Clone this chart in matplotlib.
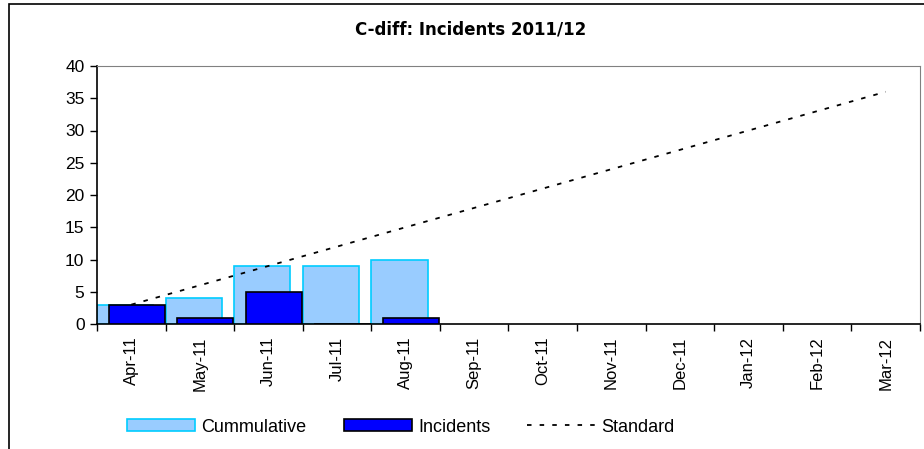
import matplotlib
matplotlib.use("Agg")
import matplotlib.pyplot as plt
import numpy as np
from matplotlib.patches import Rectangle

plt.rcParams['font.family'] = ['Liberation Sans', 'DejaVu Sans']

months = ['Apr-11', 'May-11', 'Jun-11', 'Jul-11', 'Aug-11', 'Sep-11',
          'Oct-11', 'Nov-11', 'Dec-11', 'Jan-12', 'Feb-12', 'Mar-12']
cumulative = [3, 4, 9, 9, 10]
incidents = [3, 1, 5, 0, 1]
standard = [3, 6, 9, 12, 15, 18, 21, 24, 27, 30, 33, 36]

fig = plt.figure(figsize=(9.24, 4.49), dpi=100, facecolor='white')
ax = fig.add_axes([97/924, 1-324/449, 823/924, 258/449])

x = np.arange(len(months))
width = 0.82
b1 = ax.bar(np.arange(len(cumulative)) - 0.09, cumulative, width, color='#99CCFF',
            edgecolor='#00CCFF', linewidth=1.2, label='Cummulative', zorder=2)
b2 = ax.bar(np.arange(len(incidents)) + 0.08, incidents, width, color='#0000FF',
            edgecolor='black', linewidth=1.2, label='Incidents', zorder=3)
l1, = ax.plot(x, standard, color='black', linestyle=(0, (2.5, 4.5)), linewidth=1.3,
              label='Standard', zorder=4)

ax.set_xlim(-0.5, 11.5)
ax.set_ylim(0, 40)
ax.set_yticks(np.arange(0, 41, 5))
ax.set_xticks(np.arange(-0.5, 12, 1))
ax.set_xticklabels([])
ax.set_xticks(x, minor=True)
ax.set_xticklabels(months, minor=True, rotation=90)
ax.tick_params(axis='x', which='minor', length=0, pad=9, labelsize=12)
ax.tick_params(axis='x', which='major', length=5, width=1, color='black')
ax.tick_params(axis='y', length=5, width=1, labelsize=12.5, pad=4)

for s in ['top', 'right']:
    ax.spines[s].set_color('#808080')
for s in ['left', 'bottom']:
    ax.spines[s].set_color('black')
    ax.spines[s].set_linewidth(1.2)

fig.text(471/924, 1-30/449, 'C-diff: Incidents 2011/12', ha='center',
         va='center', fontsize=12, fontweight='bold', family='DejaVu Sans')

fig.legend([b1, b2, l1], ['Cummulative', 'Incidents', 'Standard'],
           loc='center', bbox_to_anchor=(401/924, 1-427/449), ncol=3,
           frameon=False, fontsize=13, handlelength=3.77, handleheight=0.65,
           handletextpad=0.35, columnspacing=2.05)

fig.patches.append(Rectangle((9/924, -0.1), 1.0, (449-4)/449 + 0.1,
                             transform=fig.transFigure, fill=False,
                             edgecolor='black', linewidth=1.2))

fig.savefig('out.png', dpi=100, facecolor='white')
